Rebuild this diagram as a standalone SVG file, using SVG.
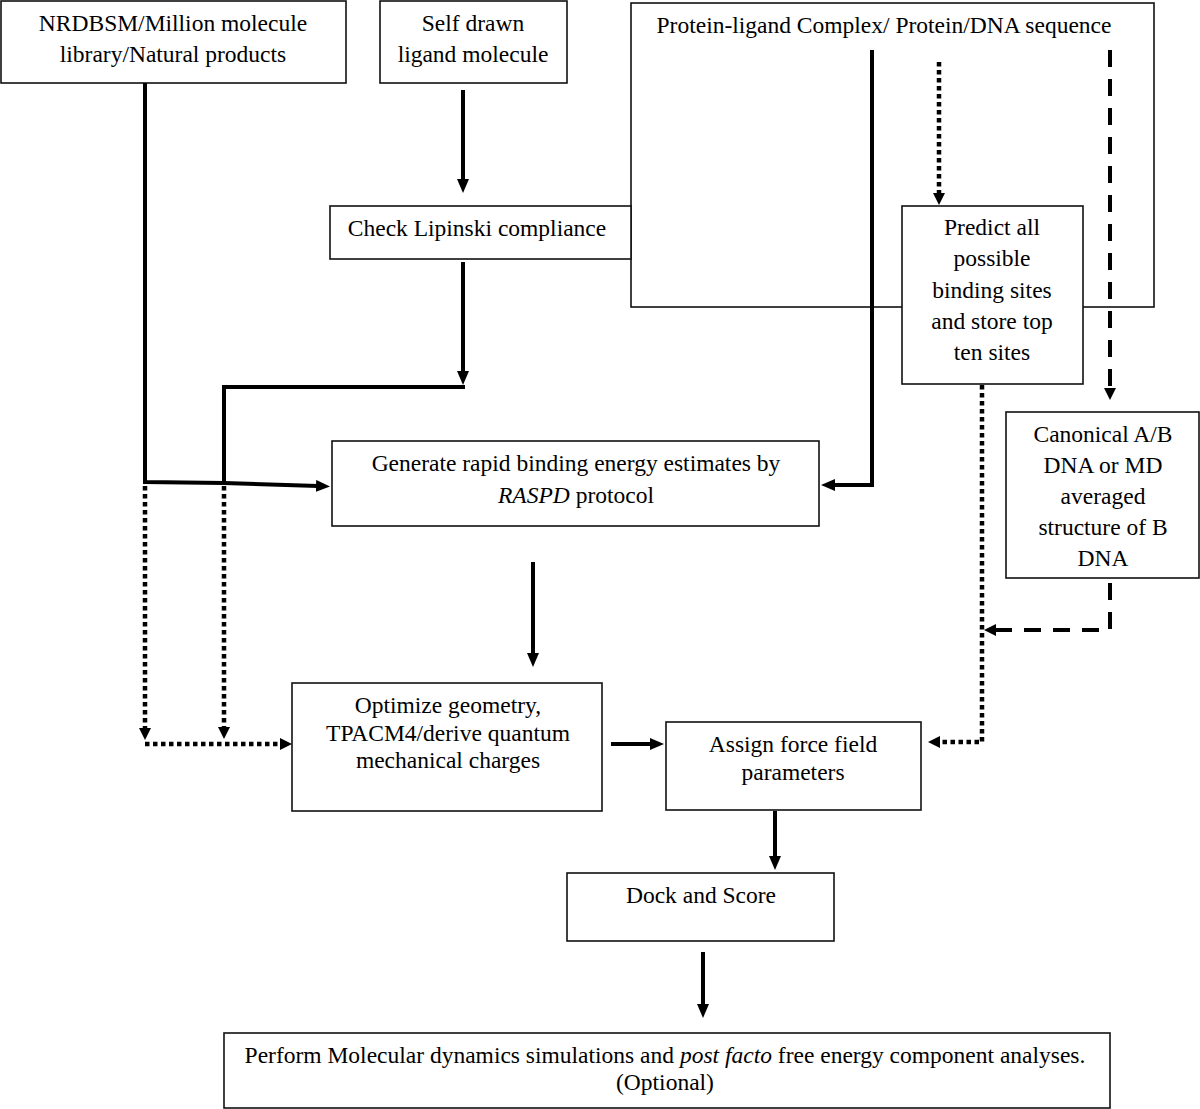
<svg xmlns="http://www.w3.org/2000/svg" width="1200" height="1109" viewBox="0 0 1200 1109">
<style>
.box{fill:#fff;stroke:#111;stroke-width:1.6}
.t{font-family:"Liberation Serif","Times New Roman",serif;font-size:23.5px;fill:#000;text-anchor:middle}
.s{fill:none;stroke:#000;stroke-width:4}
.d{fill:none;stroke:#000;stroke-width:4.5;stroke-dasharray:4.5 3.5}
.ds{fill:none;stroke:#000;stroke-width:4;stroke-dasharray:17 12}
</style>
<defs>
<marker id="a" markerUnits="userSpaceOnUse" markerWidth="16" markerHeight="14" refX="2" refY="6" orient="auto"><path d="M0,0 L14,6 L0,12 z" fill="#000"/></marker>
<marker id="b" markerUnits="userSpaceOnUse" markerWidth="14" markerHeight="13" refX="2" refY="6" orient="auto"><path d="M0,0 L12,6 L0,12 z" fill="#000"/></marker>
</defs>
<rect width="1200" height="1109" fill="#fff"/>
<g id="n-protein"><rect class="box" x="631" y="3" width="523" height="304"/><text class="t" x="884" y="33">Protein-ligand Complex/ Protein/DNA sequence</text></g>
<g id="n-nrdbsm"><rect class="box" x="1" y="1" width="345" height="82"/><text class="t" x="173" y="31">NRDBSM/Million molecule</text><text class="t" x="173" y="62">library/Natural products</text></g>
<g id="n-self"><rect class="box" x="380" y="1" width="187" height="82"/><text class="t" x="473" y="31">Self drawn</text><text class="t" x="473" y="62">ligand molecule</text></g>
<g id="n-lipinski"><rect class="box" x="330" y="206" width="301" height="53"/><text class="t" x="477" y="236">Check Lipinski compliance</text></g>
<g id="n-predict"><rect class="box" x="902" y="206" width="181" height="178"/><text class="t" x="992" y="235">Predict all</text><text class="t" x="992" y="266">possible</text><text class="t" x="992" y="298">binding sites</text><text class="t" x="992" y="329">and store top</text><text class="t" x="992" y="360">ten sites</text></g>
<g id="n-canonical"><rect class="box" x="1006" y="412" width="193" height="166"/><text class="t" x="1103" y="442">Canonical A/B</text><text class="t" x="1103" y="473">DNA or MD</text><text class="t" x="1103" y="504">averaged</text><text class="t" x="1103" y="535">structure of B</text><text class="t" x="1103" y="566">DNA</text></g>
<g id="n-raspd"><rect class="box" x="332" y="441" width="487" height="85"/><text class="t" x="576" y="471">Generate rapid binding energy estimates by</text><text class="t" x="576" y="503"><tspan font-style="italic">RASPD</tspan> protocol</text></g>
<g id="n-optimize"><rect class="box" x="292" y="683" width="310" height="128"/><text class="t" x="448" y="713">Optimize geometry,</text><text class="t" x="448" y="741">TPACM4/derive quantum</text><text class="t" x="448" y="768">mechanical charges</text></g>
<g id="n-assign"><rect class="box" x="666" y="722" width="255" height="88"/><text class="t" x="793" y="752">Assign force field</text><text class="t" x="793" y="780">parameters</text></g>
<g id="n-dock"><rect class="box" x="567" y="873" width="267" height="68"/><text class="t" x="701" y="903">Dock and Score</text></g>
<g id="n-md"><rect class="box" x="224" y="1033" width="886" height="75"/><text class="t" x="665" y="1063">Perform Molecular dynamics simulations and <tspan font-style="italic">post facto</tspan> free energy component analyses.</text><text class="t" x="665" y="1090">(Optional)</text></g>
<g id="connectors">
<line class="s" x1="463" y1="90" x2="463" y2="181" marker-end="url(#a)"/>
<line class="s" x1="463" y1="262" x2="463" y2="373" marker-end="url(#a)"/>
<polyline class="s" points="224,483 224,387 465,387"/>
<polyline class="s" points="145,83 145,482 224,483 318,486" marker-end="url(#a)"/>
<polyline class="s" points="872,50 872,485 833,485" marker-end="url(#a)"/>
<line class="s" x1="533" y1="562" x2="533" y2="655" marker-end="url(#a)"/>
<line class="s" x1="611" y1="744" x2="652" y2="744" marker-end="url(#a)"/>
<line class="s" x1="775" y1="811" x2="775" y2="858" marker-end="url(#a)"/>
<line class="s" x1="703" y1="952" x2="703" y2="1006" marker-end="url(#a)"/>
<line class="d" x1="145" y1="486" x2="145" y2="730" marker-end="url(#b)"/>
<line class="d" x1="224" y1="486" x2="224" y2="729" marker-end="url(#b)"/>
<line class="d" x1="145" y1="744" x2="282" y2="744" marker-end="url(#b)"/>
<line class="d" x1="939" y1="62" x2="939" y2="195" marker-end="url(#b)"/>
<polyline class="d" points="982,385 982,742 938,742" marker-end="url(#b)"/>
<line class="ds" x1="1110" y1="50" x2="1110" y2="390" marker-end="url(#b)"/>
<polyline class="ds" points="1110,583 1110,630 994,630" marker-end="url(#b)"/>
</g>
</svg>
